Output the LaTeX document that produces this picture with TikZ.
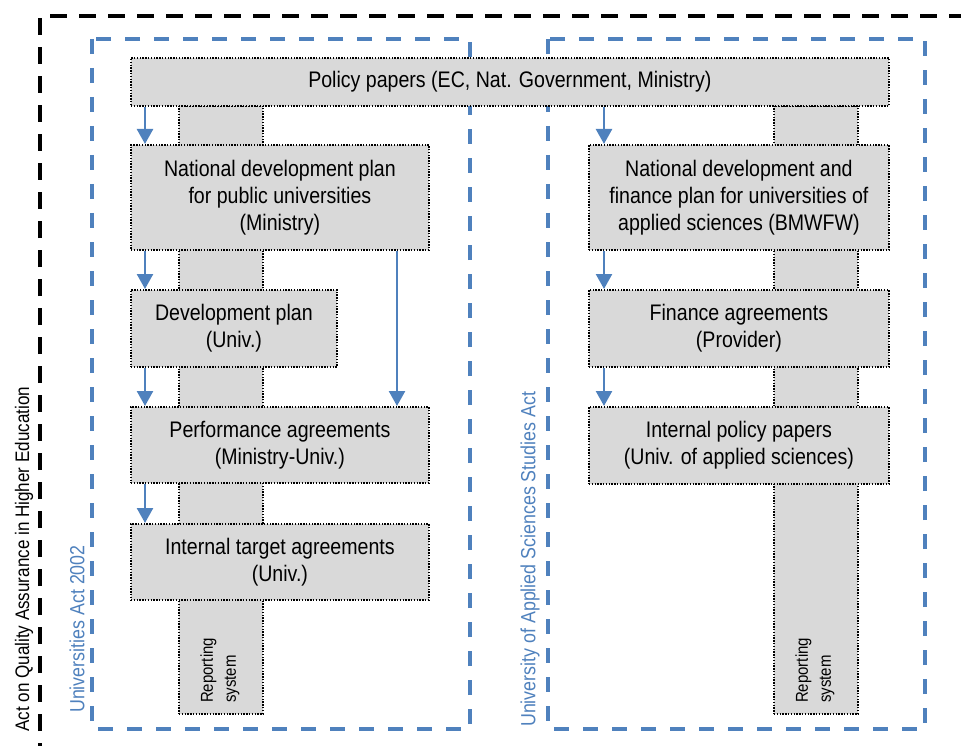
\documentclass[tikz,border=0pt]{standalone}
\usepackage{fontspec}
\setmainfont{Liberation Sans}[FakeStretch=0.87]
\usetikzlibrary{arrows.meta,calc}
\definecolor{ablue}{HTML}{4F81BD}
\definecolor{boxgray}{HTML}{D9D9D9}
\tikzset{
  gbox/.style={draw=black, fill=boxgray, line width=1.8pt, dash pattern=on 1.4pt off 1.4pt, anchor=north west, inner sep=0pt, align=center, font=\fontsize{22.5}{27}\selectfont},
  repbar/.style={draw=black, fill=boxgray, line width=1.8pt, dash pattern=on 1.4pt off 1.4pt, anchor=north west, inner sep=0pt, minimum width=84pt, minimum height=608pt},
  arr/.style={draw=ablue, line width=2.5pt, -{Triangle[width=16pt,length=15pt]}},
  actbox/.style={draw=ablue, line width=3.5pt, dash pattern=on 15pt off 14pt},
  outerbox/.style={draw=black, line width=4.2pt, dash pattern=on 17pt off 12pt},
  actlabel/.style={rotate=90, anchor=west, inner sep=0pt, text=ablue, font=\fontsize{20.5}{24}\selectfont},
  replabel/.style={rotate=90, anchor=west, inner sep=0pt, align=left, font=\fontsize{17.2}{23}\selectfont},
}
\begin{document}
\begin{tikzpicture}[x=1pt,y=-1pt]
\useasboundingbox (0,0) rectangle (961,746);
\clip (0,0) rectangle (961,746);
% outer frame
\draw[outerbox] (40,760) -- (40,16) -- (985,16);
% act frames
\draw[actbox] (92,39) rectangle (470,729);
\draw[actbox] (548,39) rectangle (925,729);
% labels of frames
\node[rotate=90, anchor=west, inner sep=0pt, font=\fontsize{19.6}{24}\selectfont] (qa) at (24,732) {Act on Quality Assurance in Higher Education};
\node[actlabel] (ua) at (77,713) {Universities Act 2002};
\node[actlabel] (uasa) at (530,727) {University of Applied Sciences Studies Act};
% reporting bars
\node[repbar] (barL) at (178,105) {};
\node[repbar] (barR) at (773,105) {};
\node[replabel] (repL) at (220,703) {Reporting\\system};
\node[replabel] (repR) at (815,703) {Reporting\\system};
% boxes
\node[gbox, minimum width=758pt, minimum height=48pt] (policy) at (130,57) {Policy papers (EC, Nat. Government, Ministry)};
\node[gbox, minimum width=298pt, minimum height=105pt] (natl) at (130,144) {National development plan\\for public universities\\(Ministry)};
\node[gbox, minimum width=206pt, minimum height=77pt] (devplan) at (130,289) {Development plan\\(Univ.)};
\node[gbox, minimum width=298pt, minimum height=76pt] (perf) at (130,406) {Performance agreements\\(Ministry-Univ.)};
\node[gbox, minimum width=298pt, minimum height=76pt] (internal) at (130,523) {Internal target agreements\\(Univ.)};
\node[gbox, minimum width=300pt, minimum height=105pt] (natr) at (588,144) {National development and\\finance plan for universities of\\applied sciences (BMWFW)};
\node[gbox, minimum width=300pt, minimum height=77pt] (fin) at (588,289) {Finance agreements\\(Provider)};
\node[gbox, minimum width=300pt, minimum height=77pt] (ipp) at (588,406) {Internal policy papers\\(Univ. of applied sciences)};
% arrow columns
\coordinate (cl) at ($(natl.north west)+(15pt,0pt)$);
\coordinate (cm) at ($(natl.south west)+(267pt,0pt)$);
\coordinate (cr) at ($(natr.north west)+(16pt,0pt)$);
\draw[arr] (policy.south -| cl) -- (natl.north -| cl);
\draw[arr] (natl.south -| cl) -- (devplan.north -| cl);
\draw[arr] (devplan.south -| cl) -- (perf.north -| cl);
\draw[arr] (perf.south -| cl) -- (internal.north -| cl);
\draw[arr] (natl.south -| cm) -- (perf.north -| cm);
\draw[arr] (policy.south -| cr) -- (natr.north -| cr);
\draw[arr] (natr.south -| cr) -- (fin.north -| cr);
\draw[arr] (fin.south -| cr) -- (ipp.north -| cr);
\end{tikzpicture}
\end{document}
